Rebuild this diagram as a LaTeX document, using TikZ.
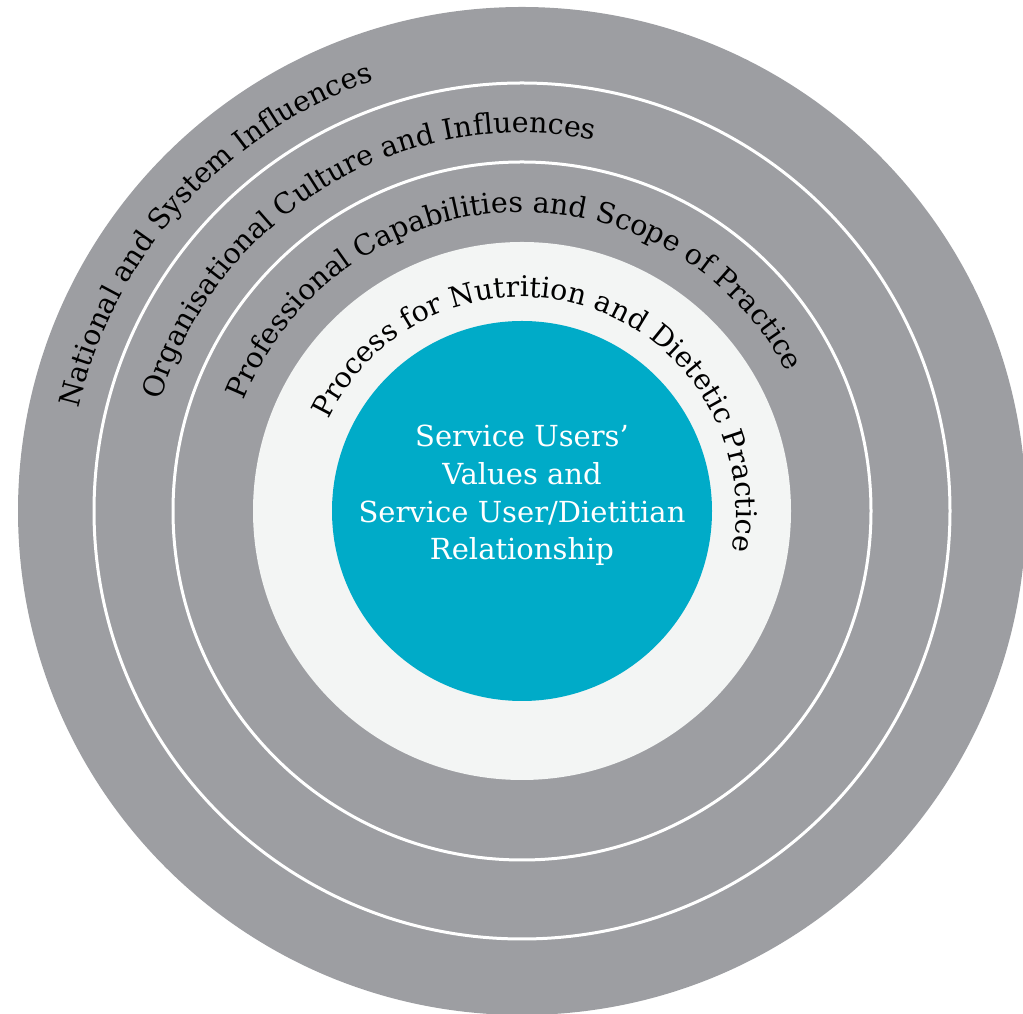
\documentclass[tikz,border=0pt]{standalone}
\usepackage{fontspec}
\setmainfont{DejaVu Serif}
\usetikzlibrary{decorations.text}
\definecolor{ringgray}{HTML}{9D9EA2}
\definecolor{lightfill}{HTML}{F3F5F4}
\definecolor{coreteal}{HTML}{00ABC8}
\newcommand{\arcfont}{\fontsize{28.5}{28.5}\selectfont}
\tikzset{
  sep line/.style={white, line width=3pt},
  core text/.style={white, anchor=base, font=\fontsize{29}{29}\selectfont}
}
\begin{document}
\begin{tikzpicture}[x=1pt,y=1pt]
\useasboundingbox (0,0) rectangle (1023,1014);
\clip (0,0) rectangle (1023,1014);
\coordinate (c) at (522,503);
% rings
\fill[ringgray] (c) circle[radius=504];
\draw[sep line] (c) circle[radius=428];
\draw[sep line] (c) circle[radius=349];
\fill[lightfill] (c) circle[radius=269];
\fill[coreteal] (c) circle[radius=190];
% curved labels
\path[decoration={text along path, text align=center,
  text={|\arcfont|National and System Influences}}, decorate]
  ([shift={(218:455)}]c) arc[start angle=218, end angle=58, radius=455];
\path[decoration={text along path, text align=center,
  text={|\arcfont|Organisational Culture and Influences}}, decorate]
  ([shift={(211:378)}]c) arc[start angle=211, end angle=31, radius=378];
\path[decoration={text along path, text align=center,
  text={|\arcfont|Professional Capabilities and Scope of Practice}}, decorate]
  ([shift={(193:299)}]c) arc[start angle=193, end angle=-7, radius=299];
\path[decoration={text along path, text align=center,
  text={|\arcfont|Process for Nutrition and Dietetic Practice}}, decorate]
  ([shift={(172:214)}]c) arc[start angle=172, end angle=-28, radius=214];
% core text
\node[core text] (t1) at (522,567) {Service Users’};
\node[core text] (t2) at (522,529) {Values and};
\node[core text] (t3) at (522,491.5) {Service User/Dietitian};
\node[core text] (t4) at (522,454) {Relationship};
\end{tikzpicture}
\end{document}
